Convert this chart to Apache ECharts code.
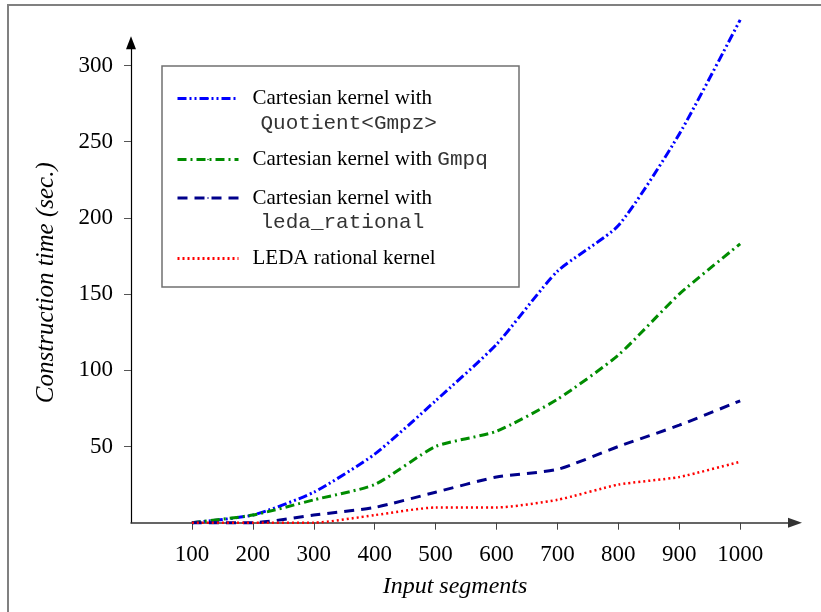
<!DOCTYPE html>
<html style="height: 100%">
<head>
    <meta charset="utf-8">
</head>
<body style="height: 100%; margin: 0; background: #fff">
<div id="main" style="width: 821px; height: 612px"></div>
<script src="https://cdn.jsdelivr.net/npm/echarts@6/dist/echarts.min.js"></script>
<script type="text/javascript">
    // data
    var segments = [100, 200, 300, 400, 500, 600, 700, 800, 900, 1000];
    var quotientGmpz = [0, 5, 20, 45, 80, 117, 165, 195, 255, 330];
    var gmpq = [0, 5, 15, 25, 50, 60, 81, 110, 150, 183];
    var ledaRational = [0, 0, 5, 10, 20, 30, 35, 50, 64, 80];
    var ledaKernel = [0, 0, 0, 5, 10, 10, 15, 25, 30, 40];
    var xTicks = [100, 200, 300, 400, 500, 600, 700, 800, 900, 1000];
    var yTicks = [50, 100, 150, 200, 250, 300];

    var names = ['quotient', 'gmpq', 'leda_rational', 'leda_kernel'];

    function pairs(ys) {
        var out = [];
        for (var i = 0; i < segments.length; i++) {
            out.push([segments[i], ys[i]]);
        }
        return out;
    }

    var serif = 'Liberation Serif';
    var mono = 'Liberation Mono';

    var chart = echarts.init(document.getElementById('main'), null, {renderer: 'canvas'});

    var richText = {
        s: {fontFamily: serif, fontSize: 21, color: '#000', lineHeight: 24.5},
        m: {fontFamily: mono, fontSize: 21, color: '#333', lineHeight: 24.5, padding: [0, 0, 0, 8]},
        m2: {fontFamily: mono, fontSize: 21, color: '#333', lineHeight: 24.5}
    };

    // one legend per entry so each can sit where the original has it
    function legendFor(name, top, text, twoLines) {
        return {
            data: [name],
            left: 176,
            top: top,
            orient: 'vertical',
            padding: 0,
            itemWidth: 61,
            itemHeight: 2,
            selectedMode: false,
            lineStyle: {width: 3},
            formatter: function () { return text; },
            textStyle: {
                padding: twoLines ? [24.5, 0, 0, 9] : [0, 0, 0, 9],
                rich: richText
            }
        };
    }

    var option = {
        animation: false,
        backgroundColor: '#fff',
        grid: {left: 131, top: 42.7, width: 664, height: 480},
        xAxis: {
            type: 'value',
            min: 0,
            max: 1090,
            name: 'Input segments',
            nameLocation: 'middle',
            nameGap: 52,
            nameTextStyle: {fontFamily: serif, fontStyle: 'italic', fontSize: 24, color: '#000', padding: [0, 16, 0, 0]},
            splitLine: {show: false},
            axisLine: {
                onZero: false,
                symbol: ['none', 'triangle'],
                symbolSize: [10, 14],
                lineStyle: {color: '#333', width: 1.5}
            },
            axisTick: {customValues: xTicks, length: 7, lineStyle: {color: '#444'}},
            axisLabel: {
                customValues: xTicks, margin: 21, fontFamily: serif, fontSize: 23, color: '#000',
                formatter: function (v) { return String(v); }
            }
        },
        yAxis: {
            type: 'value',
            min: 0,
            max: 315,
            name: 'Construction time (sec.)',
            nameLocation: 'middle',
            nameGap: 72,
            nameTextStyle: {fontFamily: serif, fontStyle: 'italic', fontSize: 25, color: '#000'},
            splitLine: {show: false},
            axisLine: {
                onZero: false,
                symbol: ['none', 'triangle'],
                symbolSize: [10, 13],
                lineStyle: {color: '#000', width: 1.2}
            },
            axisTick: {customValues: yTicks, length: 7, lineStyle: {color: '#555'}},
            axisLabel: {customValues: yTicks, margin: 18, fontFamily: serif, fontSize: 23, color: '#000'}
        },
        legend: [
            legendFor(names[0], 88, '{s|Cartesian kernel with}\n{m|Quotient<Gmpz>}', true),
            legendFor(names[1], 149, '{s|Cartesian kernel with }{m2|Gmpq}', false),
            legendFor(names[2], 187.5, '{s|Cartesian kernel with}\n{m|leda_rational}', true),
            legendFor(names[3], 248, '{s|LEDA rational kernel}', false)
        ],
        graphic: [
            {
                type: 'rect',
                shape: {x: 8, y: 5, width: 830, height: 640},
                style: {fill: 'none', stroke: '#808080', lineWidth: 2},
                silent: true
            },
            {
                type: 'rect',
                shape: {x: 162, y: 66, width: 357, height: 221},
                style: {fill: 'none', stroke: '#707070', lineWidth: 1.5},
                silent: true
            }
        ],
        series: [
            {
                name: names[0], type: 'line', data: pairs(quotientGmpz),
                symbol: 'none', smooth: 0.2, clip: false,
                lineStyle: {color: '#0000ff', width: 3, type: [9, 3, 2, 3, 2, 3]},
                itemStyle: {color: '#0000ff'}
            },
            {
                name: names[1], type: 'line', data: pairs(gmpq),
                symbol: 'none', smooth: 0.2, clip: false,
                lineStyle: {color: '#008c00', width: 3, type: [9, 4, 2, 4]},
                itemStyle: {color: '#008c00'}
            },
            {
                name: names[2], type: 'line', data: pairs(ledaRational),
                symbol: 'none', smooth: 0.2, clip: false,
                lineStyle: {color: '#00008b', width: 3, type: [10, 7]},
                itemStyle: {color: '#00008b'}
            },
            {
                name: names[3], type: 'line', data: pairs(ledaKernel),
                symbol: 'none', smooth: 0.2, clip: false,
                lineStyle: {color: '#ff0000', width: 2.5, type: [2, 3]},
                itemStyle: {color: '#ff0000'}
            }
        ]
    };

    chart.setOption(option);
</script>
</body>
</html>
